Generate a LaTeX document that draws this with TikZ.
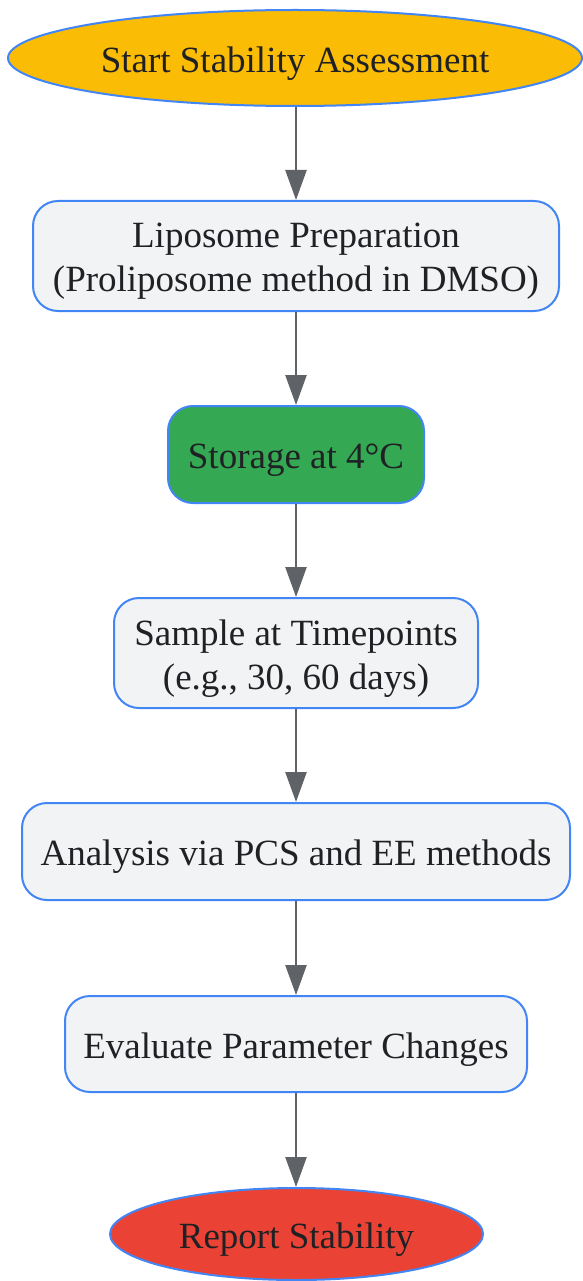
\documentclass[tikz,border=0pt]{standalone}
\usepackage{fontspec}
\setmainfont{Liberation Serif}
\usetikzlibrary{shapes.geometric,arrows.meta}
\definecolor{bordblue}{HTML}{4285F4}
\definecolor{boxfill}{HTML}{F1F3F4}
\definecolor{startyellow}{HTML}{FBBC05}
\definecolor{storegreen}{HTML}{34A853}
\definecolor{endred}{HTML}{EA4335}
\definecolor{arrowgray}{HTML}{5F6368}
\definecolor{txt}{HTML}{202124}
\tikzset{
  base/.style={draw=bordblue, line width=2pt, inner sep=0pt},
  txtstyle/.style={anchor=center, inner sep=0pt, align=center, text=txt, yshift=-5.5pt,
    font=\fontsize{37}{44}\selectfont},
  terminal/.style={base, ellipse},
  stepbox/.style={base, rectangle, rounded corners=25pt, fill=boxfill},
  flow/.style={draw=arrowgray, line width=2.5pt, -{Triangle[length=30pt,width=21pt]}},
}
\begin{document}
\begin{tikzpicture}[x=1pt,y=-1pt]
\useasboundingbox (0,0) rectangle (582,1281);
\node[terminal, fill=startyellow, minimum width=574pt, minimum height=96pt,
  label={[txtstyle]center:Start Stability Assessment}] (start) at (295,58) {};
\node[stepbox, minimum width=526pt, minimum height=110pt,
  label={[txtstyle]center:{Liposome Preparation\\(Proliposome method in DMSO)}}] (prep) at (296,256) {};
\node[stepbox, fill=storegreen, minimum width=256pt, minimum height=97pt,
  label={[txtstyle]center:Storage at 4°C}] (store) at (296,454.5) {};
\node[stepbox, minimum width=364pt, minimum height=110pt,
  label={[txtstyle]center:{Sample at Timepoints\\(e.g., 30, 60 days)}}] (sample) at (296,653) {};
\node[stepbox, minimum width=548pt, minimum height=97pt,
  label={[txtstyle]center:Analysis via PCS and EE methods}] (anal) at (296,851.5) {};
\node[stepbox, minimum width=462pt, minimum height=96pt,
  label={[txtstyle]center:Evaluate Parameter Changes}] (eval) at (296,1044) {};
\node[terminal, fill=endred, minimum width=373pt, minimum height=92pt,
  label={[txtstyle]center:Report Stability}] (report) at (296.5,1234) {};
\draw[flow] (start.south -| prep.north) -- (prep.north);
\draw[flow] (prep) -- (store);
\draw[flow] (store) -- (sample);
\draw[flow] (sample) -- (anal);
\draw[flow] (anal) -- (eval);
\draw[flow] (eval) -- (report.north -| eval.south);
\end{tikzpicture}
\end{document}
